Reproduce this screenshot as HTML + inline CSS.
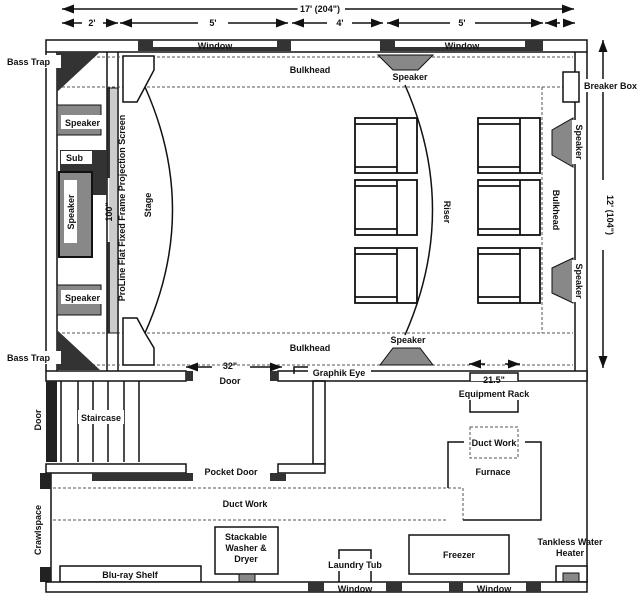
<!DOCTYPE html>
<html><head><style>
html,body{margin:0;padding:0;background:#fff}
svg{display:block}
text{font-family:"Liberation Sans",sans-serif;font-size:9px;font-weight:bold;fill:#111}
</style></head><body>
<svg width="640" height="607" viewBox="0 0 640 607" xmlns="http://www.w3.org/2000/svg">
<defs>
<marker id="a" markerWidth="8" markerHeight="6" refX="8" refY="3" orient="auto"><path d="M0,0L8,3L0,6z" fill="#111"/></marker>
</defs>
<g stroke="#111" fill="none" stroke-width="1.5">
<!-- dimension arrows -->
<line x1="300" y1="9" x2="62" y2="9" marker-end="url(#a)"/>
<line x1="345" y1="9" x2="574" y2="9" marker-end="url(#a)"/>
<line x1="82" y1="23" x2="62" y2="23" marker-end="url(#a)"/>
<line x1="103" y1="23" x2="118" y2="23" marker-end="url(#a)"/>
<line x1="198" y1="23" x2="120" y2="23" marker-end="url(#a)"/>
<line x1="228" y1="23" x2="288" y2="23" marker-end="url(#a)"/>
<line x1="327" y1="23" x2="292" y2="23" marker-end="url(#a)"/>
<line x1="352" y1="23" x2="383" y2="23" marker-end="url(#a)"/>
<line x1="450" y1="23" x2="387" y2="23" marker-end="url(#a)"/>
<line x1="475" y1="23" x2="543" y2="23" marker-end="url(#a)"/>
<line x1="560" y1="23" x2="545" y2="23" marker-end="url(#a)"/>
<line x1="563" y1="23" x2="575" y2="23" marker-end="url(#a)"/>
<line x1="603" y1="180" x2="603" y2="40" marker-end="url(#a)"/>
<line x1="603" y1="250" x2="603" y2="368" marker-end="url(#a)"/>
<!-- top wall -->
<rect x="46" y="40" width="541" height="12"/>
<!-- right wall upper -->
<line x1="575" y1="52" x2="575" y2="371"/>
<line x1="587" y1="52" x2="587" y2="381"/>
<!-- left wall -->
<line x1="46" y1="52" x2="46" y2="371"/>
<line x1="57" y1="52" x2="57" y2="371"/>
<!-- screen column -->
<line x1="107" y1="52" x2="107" y2="371"/>
<line x1="118" y1="52" x2="118" y2="371"/>
</g>
<!-- windows top -->
<rect x="138" y="40" width="15" height="11" fill="#333"/>
<rect x="277" y="40" width="14" height="11" fill="#333"/>
<rect x="153" y="47" width="124" height="4" fill="#333"/>
<rect x="153" y="41" width="124" height="6" fill="#fff"/>
<rect x="380" y="40" width="15" height="11" fill="#333"/>
<rect x="525" y="40" width="18" height="11" fill="#333"/>
<rect x="395" y="47" width="130" height="4" fill="#333"/>
<rect x="395" y="41" width="130" height="6" fill="#fff"/>
<text x="215" y="49" text-anchor="middle">Window</text>
<text x="462" y="49" text-anchor="middle">Window</text>
<text x="320" y="12" text-anchor="middle" fill="#fff" stroke="#fff" stroke-width="6">17' (204")</text>
<text x="320" y="12" text-anchor="middle">17' (204")</text>
<text x="92" y="26" text-anchor="middle">2'</text>
<text x="213" y="26" text-anchor="middle">5'</text>
<text x="340" y="26" text-anchor="middle">4'</text>
<text x="462" y="26" text-anchor="middle">5'</text>
<!-- dashed bulkheads -->
<g stroke="#555" stroke-dasharray="3,2" fill="none" stroke-width="1">
<line x1="57" y1="57" x2="573" y2="57"/>
<line x1="57" y1="87" x2="573" y2="87"/>
<line x1="57" y1="333" x2="573" y2="333"/>
<line x1="57" y1="365" x2="573" y2="365"/>
<line x1="542" y1="87" x2="542" y2="333"/>
</g>
<!-- bass traps -->
<polygon points="57,52 100,52 57,92" fill="#333"/>
<polygon points="57,330 57,370 100,370" fill="#333"/>
<rect x="3" y="55" width="58" height="13" fill="#fff"/>
<text x="7" y="65">Bass Trap</text>
<rect x="3" y="351" width="58" height="13" fill="#fff"/>
<text x="7" y="361">Bass Trap</text>
<!-- screen -->
<rect x="109" y="88" width="8" height="245" fill="#ccc"/>
<rect x="107" y="88" width="3" height="90" fill="#333"/>
<rect x="107" y="242" width="3" height="91" fill="#333"/>
<rect x="107" y="88" width="11" height="245" fill="none" stroke="#111"/>
<!-- speakers left -->
<rect x="57" y="105" width="44" height="30" fill="#888" stroke="#111"/>
<rect x="61" y="115" width="43" height="14" fill="#fff"/>
<text x="65" y="126">Speaker</text>
<rect x="60" y="150" width="47" height="45" fill="#333"/>
<rect x="61" y="151" width="31" height="13" fill="#fff"/>
<text x="66" y="161">Sub</text>
<rect x="59" y="172" width="33" height="85" fill="#888" stroke="#111" stroke-width="2"/>
<rect x="64" y="180" width="13" height="63" fill="#fff"/>
<text transform="translate(74,212) rotate(-90)" text-anchor="middle">Speaker</text>
<rect x="57" y="285" width="44" height="30" fill="#888" stroke="#111"/>
<rect x="61" y="290" width="43" height="14" fill="#fff"/>
<text x="65" y="301">Speaker</text>
<text transform="translate(112,212) rotate(-90)" text-anchor="middle">100"</text>
<text transform="translate(125,208) rotate(-90)" text-anchor="middle">ProLine Flat Fixed Frame Projection Screen</text>
<!-- stage -->
<g stroke="#111" stroke-width="1.5" fill="#fff">
<polygon points="123,56 154,56 154,70 145,87 137,102 123,102"/>
<polygon points="123,318 137,318 145,333 154,348 154,365 123,365"/>
</g>
<path d="M145,87 Q200,210 145,333" fill="none" stroke="#111" stroke-width="1.5"/>
<text transform="translate(151,205) rotate(-90)" text-anchor="middle">Stage</text>
<text x="310" y="73" text-anchor="middle">Bulkhead</text>
<text x="310" y="351" text-anchor="middle">Bulkhead</text>
<!-- riser -->
<path d="M405,85 Q460,210 405,335" fill="none" stroke="#111" stroke-width="1.5"/>
<text transform="translate(444,212) rotate(90)" text-anchor="middle">Riser</text>
<!-- center speakers -->
<polygon points="378,55 433,55 418,70 393,70" fill="#888" stroke="#111"/>
<text x="410" y="80" text-anchor="middle">Speaker</text>
<polygon points="393,348 420,348 433,365 380,365" fill="#888" stroke="#111"/>
<text x="408" y="343" text-anchor="middle">Speaker</text>
<!-- chairs -->
<g stroke="#111" stroke-width="1.8" fill="#fff">
<rect x="355" y="118" width="62" height="55"/><line x1="397" y1="118" x2="397" y2="173"/><line x1="355" y1="124" x2="397" y2="124"/><line x1="355" y1="167" x2="397" y2="167"/>
<rect x="355" y="180" width="62" height="55"/><line x1="397" y1="180" x2="397" y2="235"/><line x1="355" y1="186" x2="397" y2="186"/><line x1="355" y1="229" x2="397" y2="229"/>
<rect x="355" y="248" width="62" height="55"/><line x1="397" y1="248" x2="397" y2="303"/><line x1="355" y1="254" x2="397" y2="254"/><line x1="355" y1="297" x2="397" y2="297"/>
<rect x="478" y="118" width="62" height="55"/><line x1="520" y1="118" x2="520" y2="173"/><line x1="478" y1="124" x2="520" y2="124"/><line x1="478" y1="167" x2="520" y2="167"/>
<rect x="478" y="180" width="62" height="55"/><line x1="520" y1="180" x2="520" y2="235"/><line x1="478" y1="186" x2="520" y2="186"/><line x1="478" y1="229" x2="520" y2="229"/>
<rect x="478" y="248" width="62" height="55"/><line x1="520" y1="248" x2="520" y2="303"/><line x1="478" y1="254" x2="520" y2="254"/><line x1="478" y1="297" x2="520" y2="297"/>
</g>
<!-- right speakers -->
<polygon points="573,118 573,167 552,155 552,130" fill="#888" stroke="#111"/>
<polygon points="573,258 573,303 552,293 552,268" fill="#888" stroke="#111"/>
<rect x="572" y="120" width="14" height="44" fill="#fff"/>
<text transform="translate(576,142) rotate(90)" text-anchor="middle">Speaker</text>
<rect x="572" y="260" width="14" height="42" fill="#fff"/>
<text transform="translate(576,281) rotate(90)" text-anchor="middle">Speaker</text>
<text transform="translate(553,210) rotate(90)" text-anchor="middle">Bulkhead</text>
<rect x="563" y="72" width="16" height="30" fill="#fff" stroke="#111" stroke-width="1.5"/>
<rect x="582" y="79" width="50" height="13" fill="#fff"/>
<text x="584" y="89">Breaker Box</text>
<rect x="598" y="185" width="12" height="60" fill="#fff"/>
<text transform="translate(607,215) rotate(90)" text-anchor="middle">12' (104")</text>
<!-- theater bottom wall -->
<g stroke="#111" stroke-width="1.5" fill="#fff">
<rect x="46" y="371" width="140" height="10"/>
<rect x="278" y="371" width="309" height="10"/>
</g>
<rect x="186" y="371" width="7" height="10" fill="#333"/>
<rect x="270" y="371" width="8" height="10" fill="#333"/>
<text x="230" y="384" text-anchor="middle">Door</text>
<g stroke="#111" stroke-width="1.5">
<line x1="212" y1="367" x2="186" y2="367" marker-end="url(#a)"/>
<line x1="250" y1="367" x2="282" y2="367" marker-end="url(#a)"/>
<line x1="485" y1="364" x2="469" y2="364" marker-end="url(#a)"/>
<line x1="505" y1="364" x2="520" y2="364" marker-end="url(#a)"/>
</g>
<text x="230" y="369" text-anchor="middle">32"</text>
<polyline points="294,374 294,367 310,367" fill="none" stroke="#111" stroke-width="1.5"/>
<rect x="308" y="366" width="63" height="12" fill="#fff"/>
<text x="339" y="376" text-anchor="middle">Graphik Eye</text>
<polyline points="470,381 470,373 518,373 518,381" fill="#fff" stroke="#111" stroke-width="1.5"/>
<text x="494" y="383" text-anchor="middle">21.5"</text>
<text x="494" y="397" text-anchor="middle">Equipment Rack</text>
<polyline points="470,400 470,412 518,412 518,400" fill="none" stroke="#111" stroke-width="1.5"/>
<!-- lower area walls -->
<rect x="46" y="381" width="11" height="81" fill="#222"/>
<text transform="translate(41,420) rotate(-90)" text-anchor="middle">Door</text>
<g stroke="#111" stroke-width="1.5" fill="none">
<line x1="61" y1="381" x2="61" y2="462"/><line x1="78" y1="381" x2="78" y2="462"/><line x1="93" y1="381" x2="93" y2="462"/><line x1="108" y1="381" x2="108" y2="462"/><line x1="124" y1="381" x2="124" y2="462"/><line x1="139" y1="381" x2="139" y2="462"/>
<rect x="313" y="381" width="12" height="83"/>
<rect x="46" y="464" width="140" height="9" fill="#fff"/>
<rect x="278" y="464" width="47" height="9" fill="#fff"/>
<line x1="587" y1="381" x2="587" y2="582"/>
<line x1="51" y1="473" x2="51" y2="582"/>
</g>
<rect x="78" y="410" width="46" height="14" fill="#fff"/>
<text x="101" y="421" text-anchor="middle">Staircase</text>
<rect x="92" y="473" width="101" height="8" fill="#333"/>
<rect x="270" y="473" width="16" height="8" fill="#333"/>
<text x="231" y="475" text-anchor="middle">Pocket Door</text>
<rect x="40" y="473" width="11" height="16" fill="#222"/>
<rect x="40" y="567" width="11" height="15" fill="#222"/>
<text transform="translate(41,530) rotate(-90)" text-anchor="middle">Crawlspace</text>
<!-- duct work -->
<g stroke="#555" stroke-dasharray="3,2" fill="none" stroke-width="1">
<line x1="53" y1="488" x2="463" y2="488"/>
<line x1="53" y1="520" x2="448" y2="520"/>
<line x1="463" y1="488" x2="463" y2="520"/>
<rect x="470" y="427" width="48" height="31"/>
</g>
<text x="245" y="507" text-anchor="middle">Duct Work</text>
<polyline points="448,488 448,442 464,442" fill="none" stroke="#111" stroke-width="1.5"/>
<polyline points="525,442 541,442 541,520 463,520" fill="none" stroke="#111" stroke-width="1.5"/>
<text x="494" y="446" text-anchor="middle">Duct Work</text>
<text x="493" y="475" text-anchor="middle">Furnace</text>
<!-- appliances -->
<g stroke="#111" stroke-width="1.5" fill="#fff">
<rect x="215" y="527" width="63" height="47"/>
<rect x="409" y="535" width="100" height="39"/>
<rect x="60" y="566" width="141" height="16"/>
<rect x="556" y="566" width="31" height="16"/>
<polyline points="339,582 339,550 371,550 371,582" fill="none"/>
</g>
<rect x="239" y="574" width="16" height="8" fill="#888" stroke="#111"/>
<rect x="563" y="573" width="16" height="9" fill="#888" stroke="#111"/>
<text x="246" y="540" text-anchor="middle">Stackable</text>
<text x="246" y="551" text-anchor="middle">Washer &amp;</text>
<text x="246" y="562" text-anchor="middle">Dryer</text>
<text x="459" y="558" text-anchor="middle">Freezer</text>
<text x="130" y="578" text-anchor="middle">Blu-ray Shelf</text>
<rect x="327" y="559" width="57" height="12" fill="#fff"/>
<text x="355" y="568" text-anchor="middle">Laundry Tub</text>
<text x="570" y="545" text-anchor="middle">Tankless Water</text>
<text x="570" y="556" text-anchor="middle">Heater</text>
<!-- bottom wall -->
<rect x="46" y="582" width="541" height="10" fill="#fff" stroke="#111" stroke-width="1.5"/>
<rect x="308" y="582" width="16" height="10" fill="#333"/>
<rect x="386" y="582" width="16" height="10" fill="#333"/>
<rect x="449" y="582" width="14" height="10" fill="#333"/>
<rect x="526" y="582" width="15" height="10" fill="#333"/>
<text x="355" y="592" text-anchor="middle">Window</text>
<text x="494" y="592" text-anchor="middle">Window</text>
</svg>
</body></html>
